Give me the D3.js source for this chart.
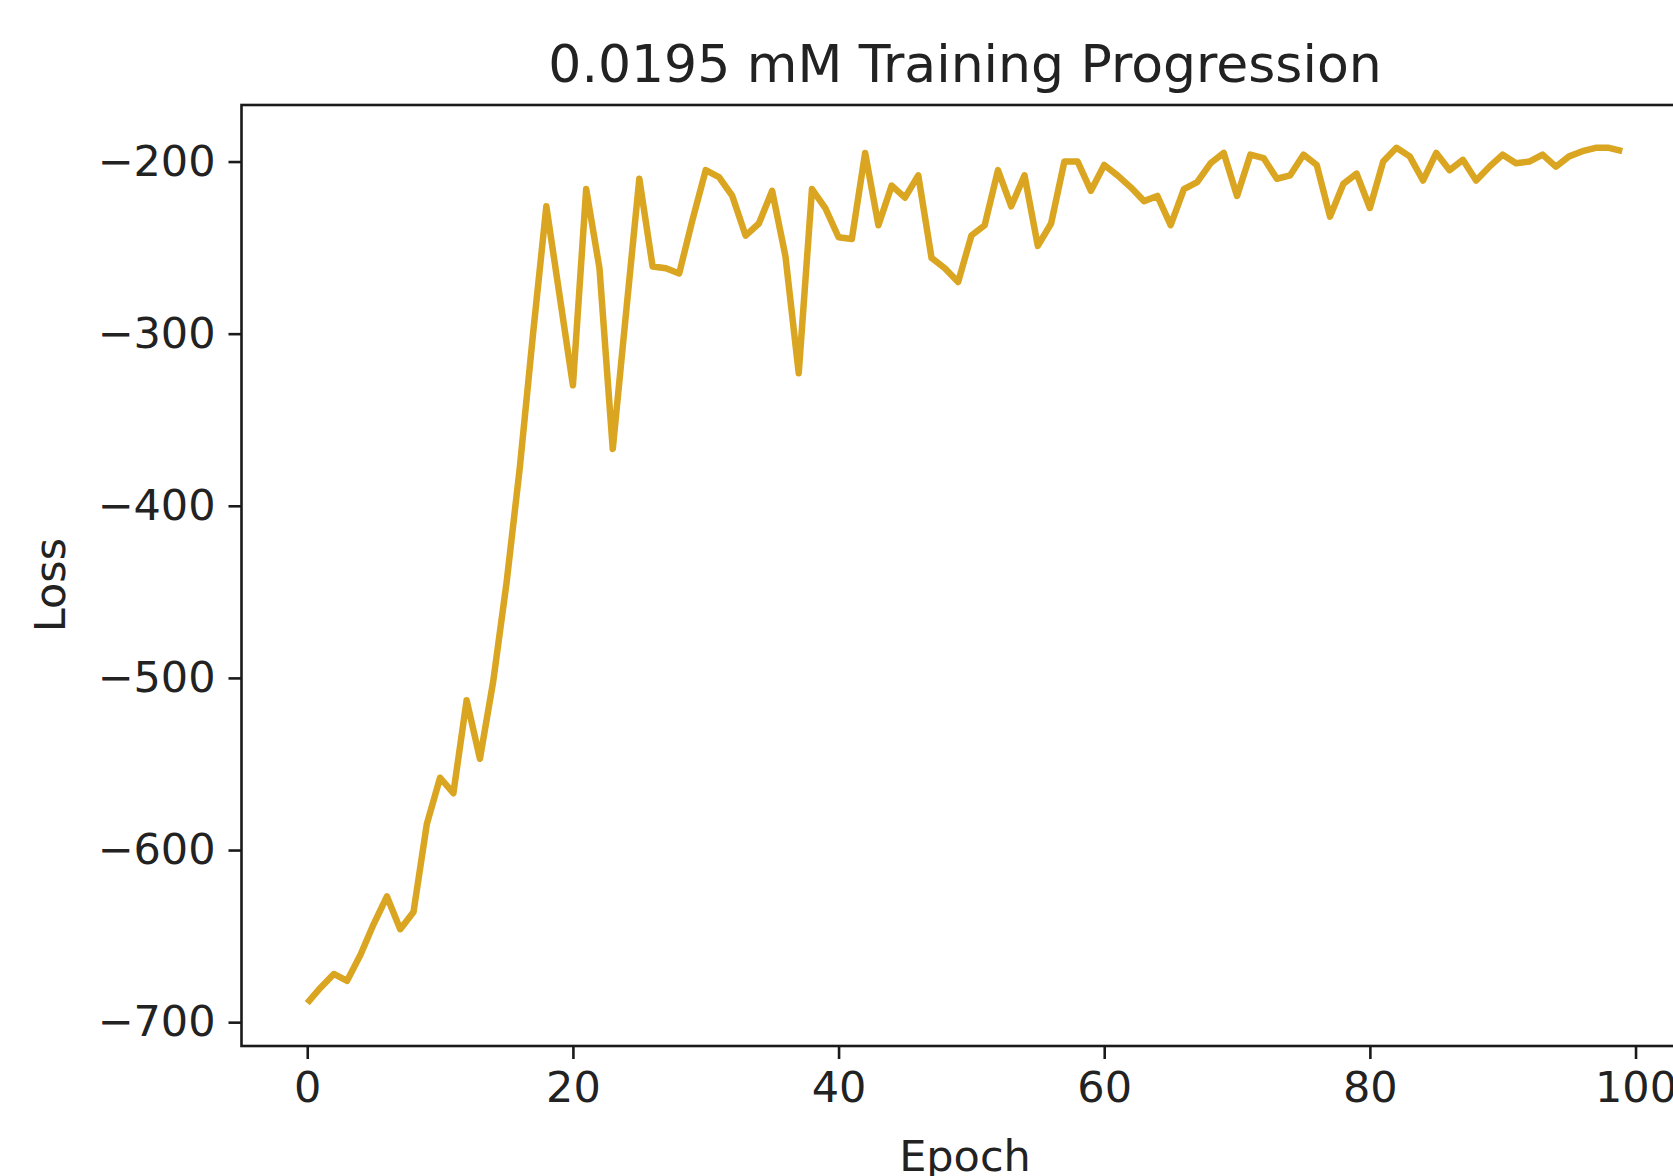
<!DOCTYPE html>
<html>
<head>
<meta charset="utf-8">
<script src="https://cdn.jsdelivr.net/npm/d3@7"></script>
<style>
  body { margin: 0; background: #fff; overflow: hidden; }
  text { font-family: "DejaVu Sans", sans-serif; fill: #222; }
</style>
</head>
<body>
<div id="chart"></div>
<script>
const title = "0.0195 mM Training Progression"
const xLabel = "Epoch"
const yLabel = "Loss"

// loss per epoch
const loss = [
  -689, -680, -672, -676, -661, -643, -627, -646, -636, -585,
  -558, -567, -513, -547, -502, -445, -378, -300, -226, -278,
  -330, -216, -262, -367, -288, -210, -261, -262, -265, -234,
  -205, -209, -220, -243, -236, -217, -255, -323, -216, -227,
  -244, -245, -195, -237, -214, -221, -208, -256, -262, -270,
  -243, -237, -205, -226, -208, -249, -236, -200, -200, -217,
  -202, -208, -215, -223, -220, -237, -216, -212, -201, -195,
  -220, -196, -198, -210, -208, -196, -202, -232, -213, -207,
  -227, -200, -192, -197, -211, -195, -205, -199, -211, -203,
  -196, -201, -200, -196, -203, -197, -194, -192, -192, -194,
]
const xTicks = [0, 20, 40, 60, 80, 100]
const yTicks = [-700, -600, -500, -400, -300, -200]

const width = 1673
const height = 1176
const frame = { left: 241.5, top: 105, right: 1688, bottom: 1046 }

const epochs = loss.map((d, i) => i)
const data = loss.map((y, i) => ({ x: epochs[i], y }))

// same 5% margins matplotlib puts round the data
const pad = (lo, hi) => {
  const m = (hi - lo) * 0.05
  return [lo - m, hi + m]
}

const xScale = d3
  .scaleLinear()
  .domain(pad(d3.min(epochs), d3.max(epochs)))
  .range([frame.left, frame.right])
const yScale = d3
  .scaleLinear()
  .domain(pad(d3.min(loss), d3.max(loss)))
  .range([frame.bottom, frame.top])

const svg = d3
  .select("#chart")
  .append("svg")
  .attr("width", width)
  .attr("height", height)

const line = d3
  .line()
  .x(({ x }) => xScale(x))
  .y(({ y }) => yScale(y))

svg
  .append("path")
  .datum(data)
  .attr("d", line)
  .attr("fill", "none")
  .attr("stroke", "goldenrod")
  .attr("stroke-width", 6.5)
  .attr("stroke-linejoin", "round")

const styleAxis = g => {
  g.select(".domain").remove()
  g.selectAll(".tick line").attr("stroke", "#1a1a1a").attr("stroke-width", 2.6)
  g.selectAll(".tick text").attr("font-size", 43).attr("fill", "#222")
}

svg
  .append("g")
  .attr("transform", "translate(0," + frame.bottom + ")")
  .call(d3.axisBottom(xScale).tickValues(xTicks).tickSize(13).tickPadding(12))
  .call(styleAxis)

svg
  .append("g")
  .attr("transform", "translate(" + frame.left + ",0)")
  .call(d3.axisLeft(yScale).tickValues(yTicks).tickSize(13).tickPadding(13))
  .call(styleAxis)

svg
  .append("rect")
  .attr("x", frame.left)
  .attr("y", frame.top)
  .attr("width", frame.right - frame.left)
  .attr("height", frame.bottom - frame.top)
  .attr("fill", "none")
  .attr("stroke", "#1a1a1a")
  .attr("stroke-width", 2.6)

svg
  .append("text")
  .attr("x", 965)
  .attr("y", 82)
  .attr("text-anchor", "middle")
  .attr("font-size", 52)
  .text(title)

svg
  .append("text")
  .attr("x", 965)
  .attr("y", 1171)
  .attr("text-anchor", "middle")
  .attr("font-size", 43)
  .text(xLabel)

svg
  .append("text")
  .attr("transform", "translate(65,585) rotate(-90)")
  .attr("text-anchor", "middle")
  .attr("font-size", 43)
  .text(yLabel)
</script>
</body>
</html>
